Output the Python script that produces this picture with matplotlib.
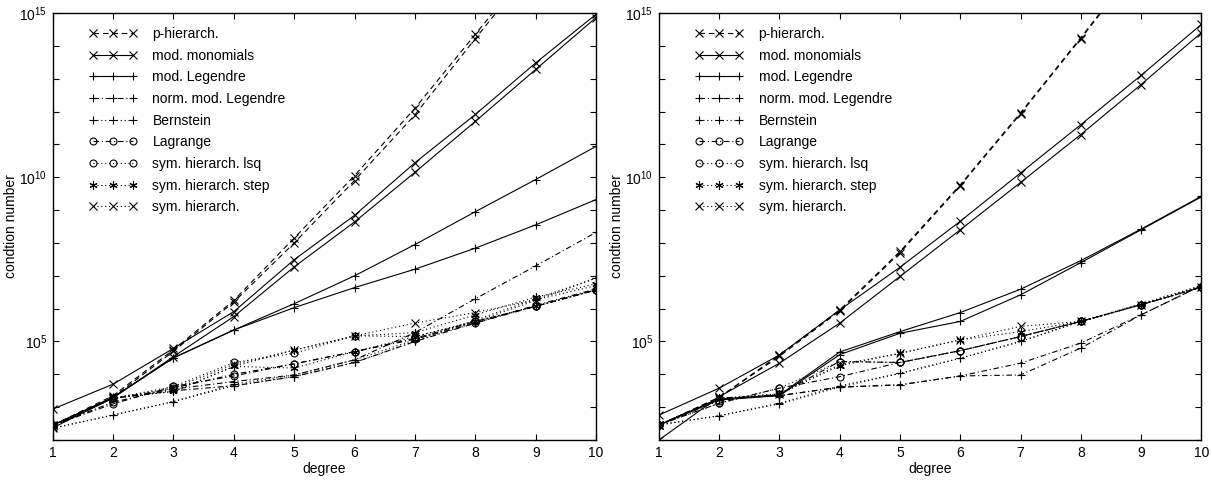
import numpy as np
import matplotlib
matplotlib.use("Agg")
import matplotlib.pyplot as plt
from matplotlib.ticker import FixedLocator, FuncFormatter, NullFormatter

plt.rcParams['font.family'] = ['Liberation Sans', 'DejaVu Sans']

degree = np.arange(1, 11)

labels = ["p-hierarch.", "mod. monomials", "mod. Legendre", "norm. mod. Legendre",
          "Bernstein", "Lagrange", "sym. hierarch. lsq", "sym. hierarch. step",
          "sym. hierarch."]

# log10 of the condition numbers, left panel
p_hier_L1 = [2.45, 3.35, 4.75, 6.25, 8.15, 10.05, 12.10, 14.35, 16.6, 18.9]
p_hier_L2 = [2.40, 3.30, 4.70, 6.20, 8.00, 9.90, 11.90, 14.22, 16.5, 18.8]
monom_L1 = [2.94, 3.70, 4.79, 5.91, 7.49, 8.84, 10.44, 11.91, 13.48, 14.96]
monom_L2 = [2.37, 3.28, 4.54, 5.76, 7.27, 8.64, 10.15, 11.70, 13.28, 14.86]
leg_L1 = [2.45, 3.30, 4.50, 5.35, 6.15, 7.00, 7.95, 8.95, 9.93, 10.94]
leg_L2 = [2.45, 3.30, 4.50, 5.35, 6.03, 6.64, 7.20, 7.84, 8.55, 9.32]
normleg_L1 = [2.45, 3.27, 3.55, 3.78, 3.98, 4.44, 5.27, 6.30, 7.30, 8.32]
normleg_L2 = [2.45, 3.27, 3.50, 3.65, 3.93, 4.36, 5.00, 5.56, 6.10, 6.60]
bern_L1 = [2.36, 2.76, 3.17, 3.65, 3.93, 4.36, 5.00, 5.60, 6.25, 6.93]
bern_L2 = [2.36, 2.76, 3.17, 3.70, 3.98, 4.44, 5.05, 5.65, 6.30, 6.93]
lagr_L1 = [2.45, 3.10, 3.63, 3.95, 4.32, 4.69, 5.07, 5.56, 6.07, 6.57]
lagr_L2 = [2.45, 3.15, 3.58, 4.00, 4.32, 4.69, 5.10, 5.61, 6.07, 6.57]
lsq_L = [2.45, 3.27, 3.63, 4.36, 4.64, 5.17, 5.15, 5.61, 6.07, 6.57]
step_L1 = [2.45, 3.27, 3.48, 4.24, 4.74, 5.17, 5.27, 5.81, 6.35, 6.75]
step_L2 = [2.45, 3.27, 3.48, 4.24, 4.19, 4.69, 5.15, 5.61, 6.07, 6.57]
sym_L = [2.45, 3.27, 3.58, 4.30, 4.74, 5.17, 5.56, 5.88, 6.27, 6.70]

# log10 of the condition numbers, right panel
p_hier_R1 = [2.45, 3.30, 4.59, 5.96, 7.74, 9.77, 11.96, 14.25, 16.6, 19.0]
p_hier_R2 = [2.45, 3.30, 4.55, 5.93, 7.70, 9.74, 11.93, 14.22, 16.55, 18.95]
monom_R1 = [2.76, 3.58, 4.59, 5.96, 7.26, 8.66, 10.13, 11.60, 13.10, 14.65]
monom_R2 = [2.00, 3.32, 4.34, 5.56, 6.98, 8.40, 9.84, 11.30, 12.82, 14.40]
leg_R1 = [2.46, 3.25, 3.37, 4.68, 5.30, 5.88, 6.59, 7.46, 8.42, 9.42]
leg_R2 = [2.46, 3.22, 3.35, 4.60, 5.25, 5.61, 6.42, 7.40, 8.40, 9.40]
normleg_R1 = [2.46, 3.27, 3.35, 3.61, 3.68, 3.95, 4.34, 4.95, 5.81, 6.70]
normleg_R2 = [2.46, 3.27, 3.35, 3.61, 3.68, 3.95, 3.98, 4.80, 5.81, 6.70]
bern_R1 = [2.46, 2.74, 3.10, 3.61, 4.03, 4.49, 5.00, 5.61, 6.12, 6.70]
bern_R2 = [2.46, 2.74, 3.12, 3.65, 4.03, 4.49, 5.00, 5.61, 6.15, 6.70]
lagr_R1 = [2.46, 3.12, 3.58, 3.93, 4.36, 4.72, 5.15, 5.61, 6.12, 6.65]
lagr_R2 = [2.46, 3.20, 3.40, 4.39, 4.36, 4.72, 5.15, 5.61, 6.12, 6.65]
lsq_R = [2.46, 3.12, 3.58, 4.39, 4.36, 4.72, 5.15, 5.61, 6.12, 6.65]
step_R = [2.46, 3.27, 3.40, 4.26, 4.64, 5.05, 5.30, 5.61, 6.12, 6.65]
sym_R = [2.46, 3.27, 3.40, 4.30, 4.64, 5.05, 5.46, 5.61, 6.12, 6.65]

DASH = (0, (5, 3.5))
DASHDOT = (0, (5, 2.5, 1, 2.5))
DOT = (0, (1, 2.5))
ASTERISK = (6, 2, 0)

styles = [
    dict(linestyle=DASH, marker='x'),
    dict(linestyle='-', marker='x'),
    dict(linestyle='-', marker='+'),
    dict(linestyle=DASHDOT, marker='+'),
    dict(linestyle=DOT, marker='+'),
    dict(linestyle=DASHDOT, marker='o'),
    dict(linestyle=DOT, marker='o'),
    dict(linestyle=DOT, marker=ASTERISK),
    dict(linestyle=DOT, marker='x'),
]

panels = [
    [[p_hier_L1, p_hier_L2], [monom_L1, monom_L2], [leg_L1, leg_L2],
     [normleg_L1, normleg_L2], [bern_L1, bern_L2], [lagr_L1, lagr_L2],
     [lsq_L], [step_L1, step_L2], [sym_L]],
    [[p_hier_R1, p_hier_R2], [monom_R1, monom_R2], [leg_R1, leg_R2],
     [normleg_R1, normleg_R2], [bern_R1, bern_R2], [lagr_R1, lagr_R2],
     [lsq_R], [step_R], [sym_R]],
]

fig = plt.figure(figsize=(12.12, 4.82), dpi=100)
rects = [[0.0435, 0.0871, 0.4483, 0.886], [0.5437, 0.0871, 0.4475, 0.886]]

for rect, series in zip(rects, panels):
    ax = fig.add_axes(rect)
    handles = []
    for style, curves, lab in zip(styles, series, labels):
        for i, c in enumerate(curves):
            mk = style['marker']
            ms = 5.0 if mk == 'o' else 5.8
            ln, = ax.plot(degree, 10.0 ** np.asarray(c), color='black',
                          linewidth=0.8, markersize=ms, markeredgewidth=0.8,
                          markerfacecolor='none', clip_on=True, **style)
            if i == 0:
                handles.append(ln)
    ax.set_yscale('log')
    ax.set_xlim(1, 10)
    ax.set_ylim(1e2, 1e15)
    ax.set_xticks(degree)
    ax.yaxis.set_major_locator(FixedLocator([1e5, 1e10, 1e15]))
    ax.yaxis.set_minor_locator(FixedLocator([10.0 ** k for k in range(2, 16)]))
    ax.yaxis.set_major_formatter(FuncFormatter(
        lambda v, p: r'$\mathregular{10^{%d}}$' % round(np.log10(v))))
    ax.yaxis.set_minor_formatter(NullFormatter())
    ax.tick_params(which='both', direction='in', top=True, right=True,
                   length=4, width=0.8, labelsize=10, pad=4)
    for s in ax.spines.values():
        s.set_linewidth(1.0)
    ax.set_xlabel('degree', fontsize=10, labelpad=2)
    ax.set_ylabel('condtion number', fontsize=10, labelpad=1)
    ax.legend(handles, labels, loc='upper left', bbox_to_anchor=(0.066, 0.967),
              frameon=False, fontsize=10, numpoints=3, handlelength=3.5,
              handletextpad=1.1, labelspacing=0.55, borderaxespad=0,
              borderpad=0)

fig.savefig('out.png', dpi=100)
